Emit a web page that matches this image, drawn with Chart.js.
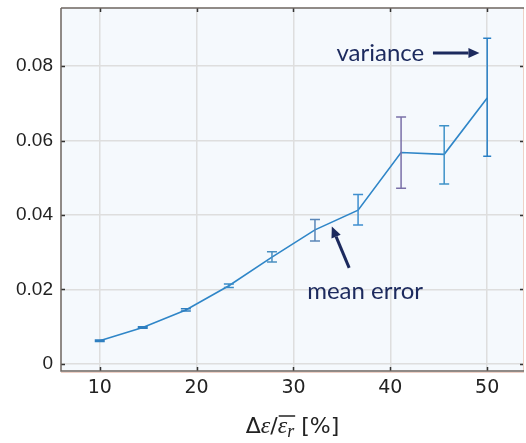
<!DOCTYPE html>
<html>
	<head>
		<title>Mean error vs permittivity step</title>
		<script src="https://cdnjs.cloudflare.com/ajax/libs/Chart.js/4.4.1/chart.umd.min.js"></script>
		<style>
			body { margin: 0; background: #fff; }
			.chart-container { width: 526px; height: 443px; }
		</style>
	</head>
	<body>
		<div class="chart-container">
			<canvas id="errChart"></canvas>
		</div>
		<script>
			// data
			const xValues = [10, 14.44, 18.89, 23.33, 27.78, 32.22, 36.67, 41.11, 45.56, 50];
			const meanError = [0.0062, 0.0098, 0.0145, 0.021, 0.0287, 0.036, 0.0413, 0.0568, 0.0563, 0.0714];
			const errLow = [0.006, 0.0096, 0.0142, 0.0205, 0.0274, 0.033, 0.0373, 0.0472, 0.0483, 0.0558];
			const errHigh = [0.0064, 0.01, 0.0148, 0.0215, 0.0301, 0.0388, 0.0455, 0.0663, 0.064, 0.0875];
			const xTicks = [10, 20, 30, 40, 50];
			const yTicks = [0, 0.02, 0.04, 0.06, 0.08];

			const barColors = ["#2f7fc0", "#2f7fc0", "#2f7fc0", "#3a8cc8", "#4a8fc0", "#5a86b8", "#3f8fcf", "#7a70a8", "#3e92c8", "#2a80c6"];
			const navy = "#1c2a5e";

			const points = xValues.map((x, i) => ({ x: x, y: meanError[i] }));

			// plot background
			const bgPlugin = {
				id: "bg",
				beforeDraw(chart) {
					const { ctx, chartArea: a } = chart;
					ctx.save();
					ctx.fillStyle = "#f5f9fd";
					ctx.fillRect(a.left, a.top, a.right - a.left, a.bottom - a.top);
					ctx.restore();
				},
			};

			// error bars with caps
			const errorBars = {
				id: "errorBars",
				afterDatasetsDraw(chart) {
					const { ctx, scales } = chart;
					ctx.save();
					ctx.lineWidth = 1.5;
					xValues.forEach((x, i) => {
						const px = scales.x.getPixelForValue(x);
						const y1 = scales.y.getPixelForValue(errLow[i]);
						const y2 = scales.y.getPixelForValue(errHigh[i]);
						const cap = i === 9 ? 4 : 5;
						ctx.strokeStyle = barColors[i];
						ctx.beginPath();
						ctx.moveTo(px, y1);
						ctx.lineTo(px, y2);
						ctx.moveTo(px - cap, y1);
						ctx.lineTo(px + cap, y1);
						ctx.moveTo(px - cap, y2);
						ctx.lineTo(px + cap, y2);
						ctx.stroke();
					});
					ctx.restore();
				},
			};

			// frame with inward ticks, annotations, x-axis label
			const framePlugin = {
				id: "frame",
				afterDraw(chart) {
					const { ctx, chartArea: a, scales } = chart;
					ctx.save();
					ctx.lineWidth = 1.5;
					// ticks
					ctx.strokeStyle = "#333";
					xTicks.forEach((v) => {
						const px = Math.round(scales.x.getPixelForValue(v)) + 0.5;
						ctx.beginPath();
						ctx.moveTo(px, a.bottom);
						ctx.lineTo(px, a.bottom - 4);
						ctx.moveTo(px, a.top);
						ctx.lineTo(px, a.top + 4);
						ctx.stroke();
					});
					yTicks.forEach((v) => {
						const py = Math.round(scales.y.getPixelForValue(v)) + 0.5;
						ctx.beginPath();
						ctx.moveTo(a.left, py);
						ctx.lineTo(a.left + 4, py);
						ctx.moveTo(a.right, py);
						ctx.lineTo(a.right - 4, py);
						ctx.stroke();
					});
					// borders
					ctx.strokeStyle = "#efd0c6";
					ctx.lineWidth = 1;
					ctx.beginPath();
					ctx.moveTo(a.right - 0.5, a.top);
					ctx.lineTo(a.right - 0.5, a.bottom);
					ctx.moveTo(a.left, a.bottom + 1.5);
					ctx.lineTo(a.right, a.bottom + 1.5);
					ctx.stroke();
					ctx.lineWidth = 1.5;
					ctx.strokeStyle = "#6e6660";
					ctx.beginPath();
					ctx.moveTo(a.left, a.top);
					ctx.lineTo(a.left, a.bottom);
					ctx.lineTo(a.right, a.bottom);
					ctx.moveTo(a.left, a.top);
					ctx.lineTo(a.right, a.top);
					ctx.stroke();

					// annotations
					const X = (v) => scales.x.getPixelForValue(v);
					const Y = (v) => scales.y.getPixelForValue(v);
					ctx.fillStyle = navy;
					ctx.strokeStyle = navy;
					ctx.font = "24px Lato";
					ctx.textBaseline = "middle";
					ctx.textAlign = "right";
					ctx.fillText("variance", X(43.5), Y(0.0835));
					ctx.textAlign = "center";
					ctx.fillText("mean error", X(37.4), Y(0.0196));

					const arrow = (x1, y1, x2, y2) => {
						const ang = Math.atan2(y2 - y1, x2 - x1);
						const hl = 11, hw = 5;
						const bx = x2 - hl * Math.cos(ang), by = y2 - hl * Math.sin(ang);
						ctx.lineWidth = 3;
						ctx.beginPath();
						ctx.moveTo(x1, y1);
						ctx.lineTo(bx, by);
						ctx.stroke();
						ctx.beginPath();
						ctx.moveTo(x2, y2);
						ctx.lineTo(bx + hw * Math.sin(ang), by - hw * Math.cos(ang));
						ctx.lineTo(bx - hw * Math.sin(ang), by + hw * Math.cos(ang));
						ctx.closePath();
						ctx.fill();
					};
					arrow(X(44.4), Y(0.0835), X(49.2), Y(0.0835));
					arrow(X(35.75), Y(0.0258), X(33.96), Y(0.0369));

					// x-axis label: Δε/ε̄_r [%]
					const parts = [
						{ t: "\u0394", f: "22px 'DejaVu Sans'" },
						{ t: "\u03b5", f: "italic 24px 'Liberation Serif'" },
						{ t: "/", f: "22px 'DejaVu Sans'" },
						{ t: "\u03b5", f: "italic 24px 'Liberation Serif'", bar: true },
						{ t: "r", f: "italic 18px 'Liberation Serif'", sub: true },
						{ t: " [%]", f: "22px 'DejaVu Sans'" },
					];
					let total = 0;
					parts.forEach((p) => {
						ctx.font = p.f;
						p.w = ctx.measureText(p.t).width;
						total += p.w;
					});
					let cx = (a.left + a.right) / 2 - total / 2;
					const base = 433;
					ctx.fillStyle = "#222";
					ctx.strokeStyle = "#222";
					ctx.textAlign = "left";
					ctx.textBaseline = "alphabetic";
					let barStart = 0;
					parts.forEach((p) => {
						ctx.font = p.f;
						ctx.fillText(p.t, cx, p.sub ? base + 4 : base);
						if (p.bar) barStart = cx;
						if (p.sub) {
							ctx.lineWidth = 1.5;
							ctx.beginPath();
							ctx.moveTo(barStart + 1, base - 17);
							ctx.lineTo(cx + p.w + 1, base - 17);
							ctx.stroke();
						}
						cx += p.w;
					});
					ctx.restore();
				},
			};

			const config = {
				type: "scatter",
				data: {
					datasets: [
						{
							label: "mean error",
							data: points,
							showLine: true,
							borderColor: "#2f86c8",
							borderWidth: 1.6,
							pointRadius: 0,
							fill: false,
						},
					],
				},
				options: {
					responsive: true,
					maintainAspectRatio: false,
					animation: false,
					layout: { padding: { top: 8, right: 2, left: 0, bottom: 0 } },
					plugins: {
						legend: { display: false },
						tooltip: { enabled: false },
					},
					scales: {
						x: {
							type: "linear",
							min: 6,
							max: 53.8,
							afterBuildTicks: (s) => { s.ticks = xTicks.map((v) => ({ value: v })); },
							afterFit: (s) => { s.height = 72; s.paddingLeft = 0; s.paddingRight = 0; },
							grid: { color: "#dedede", lineWidth: 1.5, drawTicks: false },
							border: { display: false },
							ticks: {
								padding: 6,
								color: "#222",
								font: { family: "DejaVu Sans", size: 19 },
							},
						},
						y: {
							min: -0.0019,
							max: 0.0956,
							afterBuildTicks: (s) => { s.ticks = yTicks.map((v) => ({ value: v })); },
							afterFit: (s) => { s.width = 61; s.paddingTop = 0; s.paddingBottom = 0; },
							grid: { color: "#dedede", lineWidth: 1.5, drawTicks: false },
							border: { display: false },
							ticks: {
								padding: 8,
								color: "#222",
								font: { family: "Liberation Sans", size: 19 },
								callback: (v) => (v === 0 ? "0" : v.toFixed(2)),
							},
						},
					},
				},
				plugins: [bgPlugin, errorBars, framePlugin],
			};

			new Chart(document.getElementById("errChart"), config);
		</script>
	</body>
</html>
